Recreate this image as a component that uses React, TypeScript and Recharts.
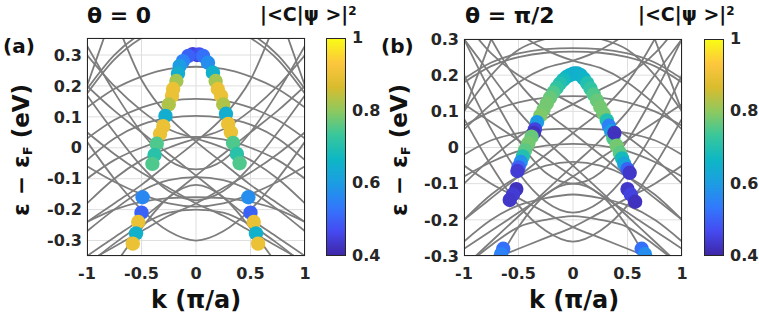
import React from "react";
import {
  ComposedChart,
  Line,
  Scatter,
  XAxis,
  YAxis,
  CartesianGrid,
} from "recharts";

const kGrid = [-1, -0.75, -0.5, -0.25, 0, 0.25, 0.5, 0.75, 1];

// panel (a), theta = 0 : symmetric bands (eV)
const bandsA = [
  [0.19, 0.3, 0.37, 0.41, 0.42, 0.41, 0.37, 0.3, 0.19],
  [0.175, 0.285, 0.355, 0.395, 0.405, 0.395, 0.355, 0.285, 0.175],
  [0.13, 0.19, 0.23, 0.255, 0.262, 0.255, 0.23, 0.19, 0.13],
  [0.03, 0.09, 0.13, 0.152, 0.158, 0.152, 0.13, 0.09, 0.03],
  [-0.04, 0.03, 0.075, 0.097, 0.103, 0.097, 0.075, 0.03, -0.04],
  [-0.1, -0.04, 0.0, 0.027, 0.035, 0.027, 0.0, -0.04, -0.1],
  [-0.27, -0.2, -0.14, -0.105, -0.095, -0.105, -0.14, -0.2, -0.27],
  [-0.24, -0.2, -0.175, -0.163, -0.16, -0.163, -0.175, -0.2, -0.24],
  [-0.06, -0.11, -0.15, -0.18, -0.19, -0.18, -0.15, -0.11, -0.06],
  [-0.38, -0.31, -0.25, -0.21, -0.2, -0.21, -0.25, -0.31, -0.38],
  [-0.5, -0.38, -0.26, -0.16, -0.12, -0.16, -0.26, -0.38, -0.5],
  [0.17, 0.05, -0.06, -0.14, -0.17, -0.14, -0.06, 0.05, 0.17],
  [0.33, 0.18, 0.05, -0.04, -0.07, -0.04, 0.05, 0.18, 0.33],
  [0.02, -0.1, -0.2, -0.27, -0.3, -0.27, -0.2, -0.1, 0.02],
  [0.2, 0.45, 0.7, 0.9, 1.0, 0.9, 0.7, 0.45, 0.2],
];
// panel (a): crossing bands, left-hand copy (right-hand copy is the same read backwards)
const crossA = [
  [0.2, 0.12, 0.05, -0.02, -0.09, -0.16, -0.23, -0.29, -0.35],
  [0.6, 0.42, 0.22, 0.1, 0.02, -0.05, -0.12, -0.18, -0.24],
  [0.05, -0.02, -0.08, -0.13, -0.18, -0.22, -0.27, -0.32, -0.37],
  [0.3, 0.2, 0.12, 0.06, 0.03, 0.0, -0.04, -0.1, -0.18],
];
// panel (a) weighted states: k, energy, |<C|psi>|^2
const pointsA = [
  { k: -0.03, e: 0.303, c: 0.45 },
  { k: 0.01, e: 0.3, c: 0.44 },
  { k: 0.03, e: 0.302, c: 0.47 },
  { k: -0.07, e: 0.297, c: 0.5 },
  { k: -0.12, e: 0.28, c: 0.55 },
  { k: -0.15, e: 0.265, c: 0.6 },
  { k: -0.165, e: 0.24, c: 0.64 },
  { k: -0.18, e: 0.216, c: 0.82 },
  { k: -0.21, e: 0.19, c: 0.9 },
  { k: -0.22, e: 0.168, c: 0.9 },
  { k: -0.25, e: 0.14, c: 0.83 },
  { k: -0.28, e: 0.103, c: 0.64 },
  { k: -0.3, e: 0.07, c: 0.9 },
  { k: -0.33, e: 0.045, c: 0.9 },
  { k: -0.36, e: 0.013, c: 0.75 },
  { k: -0.38, e: -0.023, c: 0.71 },
  { k: -0.4, e: -0.052, c: 0.75 },
  { k: -0.49, e: -0.16, c: 0.56 },
  { k: -0.5, e: -0.21, c: 0.5 },
  { k: -0.53, e: -0.24, c: 0.9 },
  { k: -0.55, e: -0.277, c: 0.65 },
  { k: -0.58, e: -0.31, c: 0.9 },
  { k: 0.065, e: 0.297, c: 0.52 },
  { k: 0.11, e: 0.275, c: 0.57 },
  { k: 0.155, e: 0.243, c: 0.65 },
  { k: 0.18, e: 0.216, c: 0.82 },
  { k: 0.2, e: 0.19, c: 0.9 },
  { k: 0.23, e: 0.168, c: 0.9 },
  { k: 0.25, e: 0.14, c: 0.83 },
  { k: 0.275, e: 0.11, c: 0.64 },
  { k: 0.295, e: 0.077, c: 0.9 },
  { k: 0.32, e: 0.05, c: 0.9 },
  { k: 0.34, e: 0.016, c: 0.75 },
  { k: 0.375, e: -0.02, c: 0.71 },
  { k: 0.4, e: -0.05, c: 0.75 },
  { k: 0.48, e: -0.16, c: 0.57 },
  { k: 0.5, e: -0.21, c: 0.5 },
  { k: 0.53, e: -0.24, c: 0.9 },
  { k: 0.55, e: -0.277, c: 0.65 },
  { k: 0.57, e: -0.31, c: 0.9 },
];

// panel (b), theta = pi/2
const bandsB = [
  [0.19, 0.235, 0.26, 0.272, 0.275, 0.272, 0.26, 0.235, 0.19],
  [0.18, 0.225, 0.25, 0.262, 0.265, 0.262, 0.25, 0.225, 0.18],
  [0.1, 0.2, 0.27, 0.3, 0.31, 0.3, 0.27, 0.2, 0.1],
  [0.06, 0.1, 0.125, 0.138, 0.142, 0.138, 0.125, 0.1, 0.06],
  [-0.02, 0.02, 0.04, 0.05, 0.052, 0.05, 0.04, 0.02, -0.02],
  [-0.08, -0.04, -0.01, 0.005, 0.01, 0.005, -0.01, -0.04, -0.08],
  [-0.2, -0.13, -0.08, -0.05, -0.04, -0.05, -0.08, -0.13, -0.2],
  [-0.26, -0.2, -0.16, -0.14, -0.13, -0.14, -0.16, -0.2, -0.26],
  [-0.33, -0.27, -0.22, -0.2, -0.19, -0.2, -0.22, -0.27, -0.33],
  [0.3, 0.15, 0.02, -0.07, -0.1, -0.07, 0.02, 0.15, 0.3],
  [0.2, 0.05, -0.07, -0.15, -0.18, -0.15, -0.07, 0.05, 0.2],
  [0.08, -0.05, -0.16, -0.23, -0.26, -0.23, -0.16, -0.05, 0.08],
  [0.1, 0.3, 0.5, 0.65, 0.7, 0.65, 0.5, 0.3, 0.1],
  [-0.5, -0.35, -0.22, -0.13, -0.1, -0.13, -0.22, -0.35, -0.5],
];
const crossB = [
  [0.3, 0.2, 0.1, 0.02, -0.05, -0.12, -0.19, -0.26, -0.33],
  [0.12, 0.07, 0.02, -0.03, -0.08, -0.13, -0.18, -0.23, -0.28],
  [0.45, 0.3, 0.18, 0.1, 0.04, -0.02, -0.08, -0.14, -0.2],
  [-0.05, -0.1, -0.14, -0.18, -0.22, -0.25, -0.28, -0.31, -0.34],
  [0.35, 0.26, 0.2, 0.16, 0.12, 0.08, 0.03, -0.03, -0.1],
  [0.55, 0.42, 0.32, 0.27, 0.24, 0.22, 0.18, 0.12, 0.05],
];
const pointsB = [
  { k: 0.02, e: 0.205, c: 0.64 },
  { k: 0.0, e: 0.204, c: 0.64 },
  { k: -0.03, e: 0.2, c: 0.65 },
  { k: -0.06, e: 0.195, c: 0.66 },
  { k: -0.09, e: 0.187, c: 0.68 },
  { k: -0.12, e: 0.177, c: 0.7 },
  { k: -0.15, e: 0.165, c: 0.72 },
  { k: -0.18, e: 0.152, c: 0.75 },
  { k: -0.21, e: 0.138, c: 0.77 },
  { k: -0.24, e: 0.122, c: 0.78 },
  { k: -0.27, e: 0.105, c: 0.78 },
  { k: -0.3, e: 0.088, c: 0.79 },
  { k: -0.33, e: 0.07, c: 0.6 },
  { k: -0.35, e: 0.05, c: 0.45 },
  { k: -0.36, e: 0.04, c: 0.42 },
  { k: -0.38, e: 0.03, c: 0.77 },
  { k: -0.41, e: 0.012, c: 0.78 },
  { k: -0.44, e: -0.008, c: 0.76 },
  { k: -0.46, e: -0.025, c: 0.7 },
  { k: -0.48, e: -0.04, c: 0.58 },
  { k: -0.5, e: -0.055, c: 0.5 },
  { k: -0.51, e: -0.065, c: 0.44 },
  { k: 0.04, e: 0.205, c: 0.64 },
  { k: 0.07, e: 0.2, c: 0.65 },
  { k: 0.1, e: 0.19, c: 0.66 },
  { k: 0.13, e: 0.178, c: 0.7 },
  { k: 0.16, e: 0.163, c: 0.72 },
  { k: 0.19, e: 0.147, c: 0.75 },
  { k: 0.22, e: 0.13, c: 0.77 },
  { k: 0.25, e: 0.112, c: 0.78 },
  { k: 0.28, e: 0.094, c: 0.78 },
  { k: 0.31, e: 0.075, c: 0.7 },
  { k: 0.33, e: 0.06, c: 0.55 },
  { k: 0.35, e: 0.045, c: 0.6 },
  { k: 0.37, e: 0.025, c: 0.75 },
  { k: 0.38, e: 0.04, c: 0.42 },
  { k: 0.4, e: 0.005, c: 0.78 },
  { k: 0.43, e: -0.015, c: 0.76 },
  { k: 0.45, e: -0.03, c: 0.68 },
  { k: 0.47, e: -0.045, c: 0.62 },
  { k: 0.5, e: -0.06, c: 0.5 },
  { k: 0.52, e: -0.07, c: 0.43 },
  { k: -0.52, e: -0.115, c: 0.42 },
  { k: -0.55, e: -0.13, c: 0.44 },
  { k: -0.58, e: -0.145, c: 0.43 },
  { k: 0.5, e: -0.115, c: 0.43 },
  { k: 0.53, e: -0.13, c: 0.45 },
  { k: 0.57, e: -0.15, c: 0.42 },
  { k: -0.64, e: -0.28, c: 0.52 },
  { k: -0.66, e: -0.295, c: 0.55 },
  { k: 0.63, e: -0.28, c: 0.52 },
  { k: 0.66, e: -0.295, c: 0.57 },
];

const xTicks = [-1, -0.5, 0, 0.5, 1];
const yTicksA = [-0.3, -0.2, -0.1, 0, 0.1, 0.2, 0.3];
const yTicksB = [-0.3, -0.2, -0.1, 0, 0.1, 0.2, 0.3];
const cbTicks = ["1", "0.8", "0.6", "0.4"];

// parula
const parula = [
  [62, 38, 168],
  [69, 75, 241],
  [49, 121, 252],
  [28, 157, 227],
  [13, 183, 196],
  [57, 199, 155],
  [141, 201, 95],
  [217, 188, 46],
  [253, 198, 61],
  [249, 251, 21],
];

function colorOf(c: number) {
  const t = Math.min(1, Math.max(0, (c - 0.4) / 0.6)) * (parula.length - 1);
  const i = Math.min(parula.length - 2, Math.floor(t));
  const f = t - i;
  const a = parula[i];
  const b = parula[i + 1];
  const m = (j: number) => Math.round(a[j] + (b[j] - a[j]) * f);
  return `rgb(${m(0)},${m(1)},${m(2)})`;
}

const FONT = "'DejaVu Sans', sans-serif";
const INK = "#262626";

const toSeries = (b: number[]) => kGrid.map((k, i) => ({ k, e: b[i] }));

function Panel(props: {
  left: number;
  top: number;
  bands: number[][];
  cross: number[][];
  points: { k: number; e: number; c: number }[];
  yDomain: [number, number];
  yTicks: number[];
}) {
  const { left, top, bands, cross, points, yDomain, yTicks } = props;
  const series = [
    ...bands.map(toSeries),
    ...cross.map(toSeries),
    ...cross.map((b) => toSeries([...b].reverse())),
  ];
  const plotW = 218;
  const plotH = 256 - top;
  return (
    <div style={{ position: "absolute", left: left - 50, top: 0 }}>
      <ComposedChart
        width={50 + plotW + 12}
        height={top + plotH + 60}
        margin={{ top, left: 0, right: 12, bottom: 30 }}
      >
        <CartesianGrid stroke="#dedede" strokeWidth={1} />
        <XAxis
          type="number"
          dataKey="k"
          domain={[-1, 1]}
          ticks={xTicks}
          allowDataOverflow
          axisLine={false}
          tickLine={false}
          tickMargin={6}
          height={30}
          tick={{ fontSize: 16, fontWeight: 700, fill: INK, fontFamily: FONT }}
        />
        <YAxis
          type="number"
          dataKey="e"
          domain={yDomain}
          ticks={yTicks}
          allowDataOverflow
          axisLine={false}
          tickLine={false}
          tickSize={2}
          tickMargin={3}
          width={50}
          tick={{ fontSize: 16, fontWeight: 700, fill: INK, fontFamily: FONT }}
        />
        {series.map((d, i) => (
          <Line
            key={i}
            data={d}
            dataKey="e"
            type="monotone"
            stroke="#7d7d7d"
            strokeWidth={1.8}
            dot={false}
            activeDot={false}
            isAnimationActive={false}
          />
        ))}
        <Scatter
          data={points}
          dataKey="e"
          isAnimationActive={false}
          shape={(p: any) => (
            <circle cx={p.cx} cy={p.cy} r={7.2} fill={colorOf(p.payload.c)} />
          )}
        />
      </ComposedChart>
      <div
        style={{
          position: "absolute",
          left: 50,
          top,
          width: plotW,
          height: plotH,
          border: `1px solid ${INK}`,
          boxSizing: "border-box",
          pointerEvents: "none",
        }}
      />
    </div>
  );
}

const txt: React.CSSProperties = {
  position: "absolute",
  fontFamily: FONT,
  fontWeight: 700,
  color: "#111",
  whiteSpace: "nowrap",
  lineHeight: 1,
};

function Colorbar({ left, top }: { left: number; top: number }) {
  const grad = `linear-gradient(to top, ${parula
    .map((c, i) => `rgb(${c[0]},${c[1]},${c[2]}) ${(i / (parula.length - 1)) * 100}%`)
    .join(", ")})`;
  const h = 256 - top;
  return (
    <>
      <div
        style={{
          position: "absolute",
          left,
          top,
          width: 20,
          height: h,
          background: grad,
          border: `1px solid ${INK}`,
          boxSizing: "border-box",
        }}
      />
      {cbTicks.map((t, i) => (
        <div
          key={t}
          style={{
            ...txt,
            fontSize: 16,
            color: INK,
            left: left + 26,
            top: top + (i * h) / 3 - 8,
          }}
        >
          {t}
        </div>
      ))}
    </>
  );
}

function Labels({ x, title, tag }: { x: number; title: string; tag: string }) {
  return (
    <>
      <div style={{ ...txt, fontSize: 22, left: x + 87, top: 5 }}>{title}</div>
      <div style={{ ...txt, fontSize: 19, left: x + 260, top: 5 }}>
        {"|<C|ψ >|"}
        <sup style={{ fontSize: 12, verticalAlign: "top" }}>2</sup>
      </div>
      <div style={{ ...txt, fontSize: 20, left: x + 3, top: 36 }}>{tag}</div>
      <div
        style={{
          ...txt,
          fontSize: 23,
          left: x + 22,
          top: 150,
          transform: "translate(-50%, -50%) rotate(-90deg)",
        }}
      >
        ε − ε<sub style={{ fontSize: 13, verticalAlign: "-3px" }}>F</sub> (eV)
      </div>
      <div
        style={{
          ...txt,
          fontSize: 24,
          left: x + 196,
          top: 300,
          transform: "translate(-50%, -50%)",
        }}
      >
        k (π/a)
      </div>
    </>
  );
}

export default function App() {
  return (
    <div
      style={{
        position: "absolute",
        left: 0,
        top: 0,
        width: 759,
        height: 316,
        background: "#fff",
        overflow: "hidden",
      }}
    >
      <Panel
        left={87}
        top={38}
        bands={bandsA}
        cross={crossA}
        points={pointsA}
        yDomain={[-0.35, 0.355]}
        yTicks={yTicksA}
      />
      <Panel
        left={464}
        top={39}
        bands={bandsB}
        cross={crossB}
        points={pointsB}
        yDomain={[-0.3, 0.3]}
        yTicks={yTicksB}
      />
      <Colorbar left={326} top={38} />
      <Colorbar left={704} top={39} />
      <Labels x={0} title="θ = 0" tag="(a)" />
      <Labels x={378} title="θ = π/2" tag="(b)" />
    </div>
  );
}
